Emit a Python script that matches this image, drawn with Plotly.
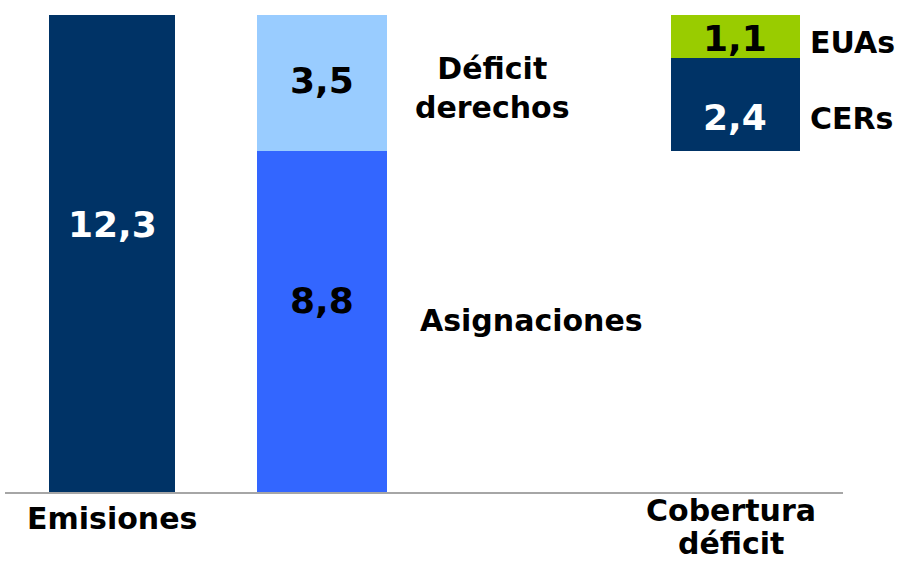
import plotly.graph_objects as go

# valores (millones de toneladas)
emisiones = 12.3
asignaciones = 8.8
deficit = 3.5
cers = 2.4
euas = 1.1

categorias = ["Emisiones", "Cobertura", "déficit"]

# posicion horizontal de cada barra y su anchura (unidades del eje x)
x_pos = [112, 322, 735]
anchos = [126, 130, 129]

NAVY = "#003366"
AZUL = "#3366FF"
CELESTE = "#99CCFF"
VERDE = "#99CC00"
FONT = "DejaVu Sans"

fig = go.Figure()

fig.add_trace(go.Bar(x=[x_pos[0]], y=[emisiones], width=[anchos[0]],
                     marker=dict(color=NAVY, line=dict(width=0))))
fig.add_trace(go.Bar(x=[x_pos[1]], y=[asignaciones], width=[anchos[1]],
                     marker=dict(color=AZUL, line=dict(width=0))))
fig.add_trace(go.Bar(x=[x_pos[1]], y=[deficit], base=[asignaciones], width=[anchos[1]],
                     marker=dict(color=CELESTE, line=dict(width=0))))
fig.add_trace(go.Bar(x=[x_pos[2]], y=[cers], base=[asignaciones], width=[anchos[2]],
                     marker=dict(color=NAVY, line=dict(width=0))))
fig.add_trace(go.Bar(x=[x_pos[2]], y=[euas], base=[asignaciones + cers], width=[anchos[2]],
                     marker=dict(color=VERDE, line=dict(width=0))))

# etiquetas de valor dentro de las barras
valores = [
    (x_pos[0], emisiones * 0.56, emisiones, "white"),
    (x_pos[1], asignaciones * 0.56, asignaciones, "black"),
    (x_pos[1], asignaciones + deficit * 0.52, deficit, "black"),
    (x_pos[2], asignaciones + cers * 0.36, cers, "white"),
    (x_pos[2], asignaciones + cers + euas * 0.46, euas, "black"),
]
for x, y, v, col in valores:
    fig.add_annotation(x=x, y=y, text=f"{v:.1f}".replace(".", ","), showarrow=False,
                       xanchor="center", yanchor="middle",
                       font=dict(family=FONT, size=36, color=col, weight="bold"))

# etiquetas laterales
laterales = [
    (492, 10.42, "Déficit<br>derechos", "center"),
    (531, 4.41, "Asignaciones", "center"),
    (808, 11.6, "EUAs", "left"),
    (808, 9.64, "CERs", "left"),
]
for x, y, t, anc in laterales:
    fig.add_annotation(x=x, y=y, text=t, showarrow=False, xanchor=anc, yanchor="middle",
                       font=dict(family=FONT, size=30, color="black", weight="bold"))

# rotulos de categoria bajo el eje
rotulos = [
    (x_pos[0], -0.053, categorias[0]),
    (x_pos[2] - 4, -0.037, categorias[1]),
    (x_pos[2] - 4, -0.105, categorias[2]),
]
for x, y, t in rotulos:
    fig.add_annotation(x=x, y=y, xref="x", yref="paper", text=t, showarrow=False,
                       xanchor="center", yanchor="middle",
                       font=dict(family=FONT, size=30, color="black", weight="bold"))

fig.update_layout(
    width=904, height=561,
    margin=dict(l=5, r=61, t=0, b=69),
    barmode="overlay",
    bargap=0,
    showlegend=False,
    hovermode=False,
    plot_bgcolor="white",
    paper_bgcolor="white",
    xaxis=dict(range=[5, 843], showticklabels=False, automargin=False,
               showline=True, linecolor="#A6A6A6", linewidth=2,
               showgrid=False, zeroline=False, ticks=""),
    yaxis=dict(range=[0, 12.687], visible=False, automargin=False,
               showgrid=False, zeroline=False),
)

# quitar el margen por defecto del <body>
fig.write_html("out.html", config={"displayModeBar": False},
               post_script="document.body.style.margin='0';")
